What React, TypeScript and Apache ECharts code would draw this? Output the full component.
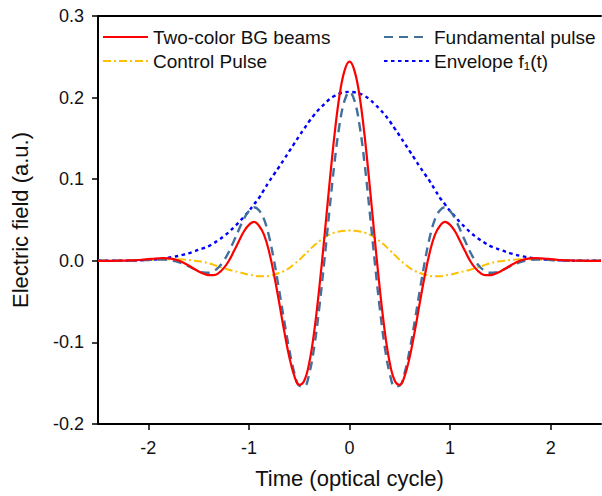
import React, { useEffect, useRef } from "react";
import * as echarts from "echarts";

// Time grid: -2.5 .. 2.5 in steps of 0.05 (101 points)
const timeStart = -2.5;
const timeStep = 0.05;
const timeCount = 101;

const twoColorValues = [
  0, 0, 0, 0, 0.0001, 0.0002, 0.0004, 0.0006, 0.001, 0.0015, 0.002, 0.0025, 0.003, 0.0033, 0.003, 0.002, 0.0004,
  -0.0024, -0.0057, -0.0094, -0.013, -0.0158, -0.0176, -0.0176, -0.0149, -0.009, -0.0002, 0.0116, 0.024, 0.0359,
  0.044, 0.0476, 0.043, 0.032, 0.0115, -0.017, -0.0505, -0.0855, -0.117, -0.1405, -0.152, -0.147, -0.125, -0.086,
  -0.033, 0.0285, 0.093, 0.1535, 0.202, 0.2328,
  0.244,
  0.2328, 0.202, 0.1535, 0.093, 0.0285, -0.033, -0.086, -0.125, -0.147, -0.152, -0.1405, -0.117, -0.0855, -0.0505,
  -0.017, 0.0115, 0.032, 0.043, 0.0476, 0.044, 0.0359, 0.024, 0.0116, -0.0002, -0.009, -0.0149, -0.0176, -0.0176,
  -0.0158, -0.013, -0.0094, -0.0057, -0.0024, 0.0004, 0.002, 0.003, 0.0033, 0.003, 0.0025, 0.002, 0.0015, 0.001,
  0.0006, 0.0004, 0.0002, 0.0001, 0, 0, 0, 0,
];

const fundamentalValues = [
  0, 0, 0, 0, 0, 0, 0.0001, 0.0002, 0.0004, 0.0007, 0.001, 0.0013, 0.0015, 0.0015, 0.001, 0, -0.0016, -0.0039,
  -0.0067, -0.0097, -0.0125, -0.0143, -0.0146, -0.0126, -0.0079, 0, 0.0108, 0.0241, 0.038, 0.0514, 0.061, 0.0656,
  0.062, 0.051, 0.03, 0, -0.0355, -0.073, -0.108, -0.1365, -0.153, -0.154, -0.138, -0.105, -0.057, 0, 0.061, 0.119,
  0.166, 0.196,
  0.207,
  0.196, 0.166, 0.119, 0.061, 0, -0.057, -0.105, -0.138, -0.154, -0.153, -0.1365, -0.108, -0.073, -0.0355, 0, 0.03,
  0.051, 0.062, 0.0656, 0.061, 0.0514, 0.038, 0.0241, 0.0108, 0, -0.0079, -0.0126, -0.0146, -0.0143, -0.0125,
  -0.0097, -0.0067, -0.0039, -0.0016, 0, 0.001, 0.0015, 0.0015, 0.0013, 0.001, 0.0007, 0.0004, 0.0002, 0.0001, 0, 0,
  0, 0, 0, 0,
];

const controlValues = [
  0, 0, 0, 0, 0.0001, 0.0002, 0.0003, 0.0004, 0.0006, 0.0008, 0.001, 0.0012, 0.0015, 0.0018, 0.002, 0.002, 0.002,
  0.0015, 0.001, 0.0003, -0.0005, -0.0015, -0.003, -0.005, -0.007, -0.009, -0.011, -0.0125, -0.014, -0.0155, -0.017,
  -0.018, -0.019, -0.019, -0.0185, -0.017, -0.015, -0.0125, -0.009, -0.004, 0.001, 0.007, 0.013, 0.019, 0.024,
  0.0285, 0.032, 0.0345, 0.036, 0.0368,
  0.037,
  0.0368, 0.036, 0.0345, 0.032, 0.0285, 0.024, 0.019, 0.013, 0.007, 0.001, -0.004, -0.009, -0.0125, -0.015, -0.017,
  -0.0185, -0.019, -0.019, -0.018, -0.017, -0.0155, -0.014, -0.0125, -0.011, -0.009, -0.007, -0.005, -0.003, -0.0015,
  -0.0005, 0.0003, 0.001, 0.0015, 0.002, 0.002, 0.002, 0.0018, 0.0015, 0.0012, 0.001, 0.0008, 0.0006, 0.0004,
  0.0003, 0.0002, 0.0001, 0, 0, 0, 0,
];

const envelopeValues = [
  0, 0, 0, 0, 0.0001, 0.0001, 0.0002, 0.0003, 0.0005, 0.0008, 0.0011, 0.0015, 0.0021, 0.0028, 0.0037, 0.0048, 0.006,
  0.0075, 0.0092, 0.0112, 0.0135, 0.0155, 0.018, 0.0215, 0.0255, 0.03, 0.035, 0.041, 0.047, 0.054, 0.061, 0.069,
  0.077, 0.087, 0.097, 0.106, 0.115, 0.1245, 0.134, 0.1435, 0.153, 0.162, 0.171, 0.179, 0.186, 0.192, 0.198, 0.202,
  0.205, 0.2065,
  0.207,
  0.2065, 0.205, 0.202, 0.198, 0.192, 0.186, 0.179, 0.171, 0.162, 0.153, 0.1435, 0.134, 0.1245, 0.115, 0.106, 0.097,
  0.087, 0.077, 0.069, 0.061, 0.054, 0.047, 0.041, 0.035, 0.03, 0.0255, 0.0215, 0.018, 0.0155, 0.0135, 0.0112,
  0.0092, 0.0075, 0.006, 0.0048, 0.0037, 0.0028, 0.0021, 0.0015, 0.0011, 0.0008, 0.0005, 0.0003, 0.0002, 0.0001,
  0.0001, 0, 0, 0, 0,
];

const xTickValues = [-2, -1, 0, 1, 2];
const seriesNames = ["Two-color BG beams", "Control Pulse", "Fundamental pulse", "Envelope f\u2081(t)"];

const FONT = 'Arial, "Liberation Sans", Helvetica, sans-serif';

export default function App() {
  const ref = useRef<HTMLDivElement>(null);

  useEffect(() => {
    if (!ref.current) return;
    const chart = echarts.init(ref.current, undefined, { renderer: "svg" });
    const times = Array.from({ length: timeCount }, (_, i) => Math.round((timeStart + i * timeStep) * 100) / 100);
    const pairs = (vals: number[]) => times.map((t, i) => [t, vals[i]]);

    const axisLineStyle = { color: "#000", width: 2 };
    const legendCommon = {
      orient: "vertical",
      top: 27,
      padding: 0,
      itemWidth: 45,
      itemHeight: 14,
      itemGap: 4,
      itemStyle: { opacity: 0 },
      textStyle: { fontSize: 19, color: "#111", fontFamily: FONT, lineHeight: 20 },
    };

    chart.setOption({
      animation: false,
      backgroundColor: "#fff",
      textStyle: { fontFamily: FONT },
      grid: { left: 98, right: 1, top: 16, bottom: 72, containLabel: false },
      legend: [
        { ...legendCommon, data: [seriesNames[0], seriesNames[1]], left: 102 },
        { ...legendCommon, data: [seriesNames[2], seriesNames[3]], left: 383 },
      ],
      xAxis: [
        {
          type: "value",
          min: -2.5,
          max: 2.5,
          position: "bottom",
          name: "Time (optical cycle)",
          nameLocation: "middle",
          nameGap: 43,
          nameTextStyle: { fontSize: 22, color: "#111", fontFamily: FONT },
          axisLine: { show: true, onZero: false, lineStyle: axisLineStyle },
          axisTick: { show: true, length: 6, lineStyle: { color: "#000", width: 1.5 }, customValues: xTickValues },
          axisLabel: { fontSize: 18, color: "#111", margin: 15, fontFamily: FONT, customValues: xTickValues },
          splitLine: { show: false },
        },
        {
          type: "value",
          min: -2.5,
          max: 2.5,
          position: "top",
          axisLine: { show: true, onZero: false, lineStyle: axisLineStyle },
          axisTick: { show: false },
          axisLabel: { show: false },
          splitLine: { show: false },
        },
      ],
      yAxis: {
        type: "value",
        min: -0.2,
        max: 0.3,
        interval: 0.1,
        name: "Electric field (a.u.)",
        nameLocation: "middle",
        nameGap: 67,
        nameTextStyle: { fontSize: 22, color: "#111", fontFamily: FONT },
        axisLine: { show: true, onZero: false, lineStyle: axisLineStyle },
        axisTick: { show: true, length: 6, lineStyle: { color: "#000", width: 1.5 } },
        axisLabel: {
          fontSize: 18,
          color: "#111",
          margin: 14,
          fontFamily: FONT,
          formatter: (v: number) => v.toFixed(1),
        },
        splitLine: { show: false },
      },
      series: [
        {
          name: seriesNames[0],
          type: "line",
          data: pairs(twoColorValues),
          symbol: "none",
          smooth: 0.4,
          lineStyle: { color: "#f00", width: 2.2, type: "solid" },
          itemStyle: { color: "#f00" },
          z: 4,
        },
        {
          name: seriesNames[2],
          type: "line",
          data: pairs(fundamentalValues),
          symbol: "none",
          smooth: 0.4,
          lineStyle: { color: "#41709c", width: 2.4, type: [9, 6] },
          itemStyle: { color: "#41709c" },
          z: 3,
        },
        {
          name: seriesNames[1],
          type: "line",
          data: pairs(controlValues),
          symbol: "none",
          smooth: 0.4,
          lineStyle: { color: "#ffc000", width: 2, type: [8, 3, 2, 3] },
          itemStyle: { color: "#ffc000" },
          z: 2,
        },
        {
          name: seriesNames[3],
          type: "line",
          data: pairs(envelopeValues),
          symbol: "none",
          smooth: 0.4,
          lineStyle: { color: "#0000ff", width: 2.4, type: [3.5, 3.5] },
          itemStyle: { color: "#0000ff" },
          z: 2,
        },
      ],
    });

    return () => chart.dispose();
  }, []);

  return (
    <div
      ref={ref}
      style={{ position: "fixed", left: 0, top: 0, width: 602, height: 496, background: "#fff" }}
    />
  );
}
